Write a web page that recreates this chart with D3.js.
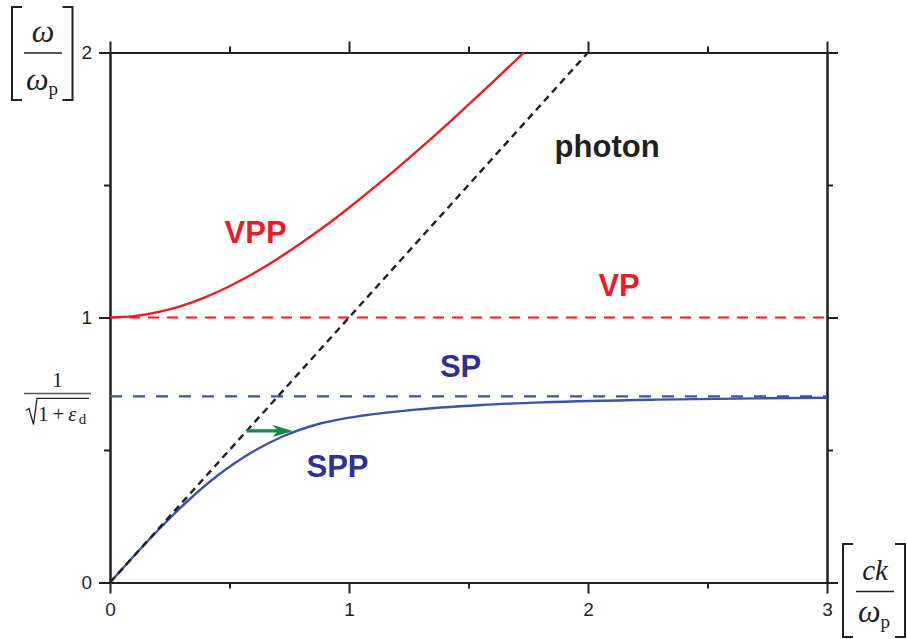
<!DOCTYPE html>
<html>
<head>
<meta charset="utf-8">
<script src="https://cdn.jsdelivr.net/npm/d3@7"></script>
<style>
  html, body { margin: 0; padding: 0; background: #fff; }
  svg { display: block; }
</style>
</head>
<body>
<svg id="chart" width="907" height="639"></svg>
<script>
// Wave number ck/ωp on the x axis, frequency ω/ωp on the y axis
const kMajorTicks = [0, 1, 2, 3];
const kMinorTicks = [0.5, 1.5, 2.5];
const wMajorTicks = [0, 1, 2];
const wMinorTicks = [0.5, 1.5];

// light line ω = ck
const photonK = [0, 2];
const photonW = [0, 2];

// volume plasmon polariton branch
const vppK = [0, 0.1, 0.2, 0.3, 0.4, 0.5, 0.6, 0.7, 0.8, 0.9, 1.0, 1.1, 1.2, 1.3, 1.4, 1.5, 1.6, 1.732];
const vppW = [1.000, 1.005, 1.020, 1.044, 1.077, 1.118, 1.166, 1.221, 1.281, 1.345, 1.414, 1.487, 1.562, 1.640, 1.720, 1.803, 1.887, 2.000];

// surface plasmon polariton branch
const sppK = [0, 0.100, 0.204, 0.316, 0.445, 0.521, 0.610, 0.720, 0.880, 1.060, 1.250, 1.556, 1.818, 2.284, 2.712, 3.0];
const sppW = [0, 0.10, 0.20, 0.30, 0.40, 0.45, 0.50, 0.55, 0.60, 0.63, 0.65, 0.67, 0.68, 0.69, 0.695, 0.697];

// flat asymptotes: volume plasmon and surface plasmon
const vpW = 1;
const spW = 0.702;

// momentum-mismatch arrow from the light line to the SPP curve
const arrowK = [0.572, 0.765];
const arrowW = 0.572;

// curve labels: text, position (k, ω at baseline) and colour group
const labelText = ["VPP", "photon", "VP", "SP", "SPP"];
const labelK = [0.609, 2.08, 2.13, 1.467, 0.952];
const labelW = [1.281, 1.606, 1.081, 0.775, 0.398];
const labelKind = ["red", "black", "red", "blue", "blue"];

const C = {
  axis: "#231f20",
  red: "#ed1c24",
  blueLine: "#3a55a5",
  blueText: "#2e3192",
  black: "#231f20",
  green: "#0d8a45"
};

const svg = d3.select("#chart");
svg.append("rect").attr("width", 907).attr("height", 639).attr("fill", "#fff");

const x = d3.scaleLinear().domain([0, 3]).range([110, 827]);
const y = d3.scaleLinear().domain([0, 2]).range([582.5, 52.5]);

const sans = "'Liberation Sans', Arial, Helvetica, sans-serif";
const serif = "'Liberation Serif', 'Times New Roman', 'DejaVu Serif', serif";

// ---- frame with outward ticks on all four sides
function styleAxis(g, showText) {
  g.select(".domain").attr("stroke", C.axis).attr("stroke-width", 2);
  g.selectAll(".tick line").attr("stroke", C.axis).attr("stroke-width", 2);
  g.selectAll(".tick text")
    .attr("fill", C.axis)
    .style("font-family", sans)
    .style("font-size", "19px");
  if (!showText) g.selectAll(".tick text").remove();
}

const axes = svg.append("g");
function addAxis(gen, tr, showText) {
  const g = axes.append("g").attr("transform", tr).call(gen);
  styleAxis(g, showText);
  return g;
}
const X0 = x(0), X1 = x(3), Y0 = y(0), Y1 = y(2);

addAxis(d3.axisBottom(x).tickValues(kMajorTicks).tickSize(11).tickSizeOuter(0).tickPadding(9).tickFormat(d3.format("d")), `translate(0,${Y0})`, true);
addAxis(d3.axisBottom(x).tickValues(kMinorTicks).tickSize(6).tickSizeOuter(0), `translate(0,${Y0})`, false);
addAxis(d3.axisTop(x).tickValues(kMajorTicks).tickSize(11).tickSizeOuter(0), `translate(0,${Y1})`, false);
addAxis(d3.axisTop(x).tickValues(kMinorTicks).tickSize(6).tickSizeOuter(0), `translate(0,${Y1})`, false);
addAxis(d3.axisLeft(y).tickValues(wMajorTicks).tickSize(11).tickSizeOuter(0).tickPadding(7).tickFormat(d3.format("d")), `translate(${X0},0)`, true);
addAxis(d3.axisLeft(y).tickValues(wMinorTicks).tickSize(6).tickSizeOuter(0), `translate(${X0},0)`, false);
addAxis(d3.axisRight(y).tickValues(wMajorTicks).tickSize(11).tickSizeOuter(0), `translate(${X1},0)`, false);
addAxis(d3.axisRight(y).tickValues(wMinorTicks).tickSize(6).tickSizeOuter(0), `translate(${X1},0)`, false);

// ---- curves
const plot = svg.append("g");
const line = d3.line().x(d => x(d[0])).y(d => y(d[1])).curve(d3.curveMonotoneX);
const straight = d3.line().x(d => x(d[0])).y(d => y(d[1]));

// VP and SP asymptotes
plot.append("path")
  .attr("d", straight([[0, vpW], [3, vpW]]))
  .attr("fill", "none").attr("stroke", C.red).attr("stroke-width", 2.2)
  .attr("stroke-dasharray", "11,8");
plot.append("path")
  .attr("d", straight([[0, spW], [3, spW]]))
  .attr("fill", "none").attr("stroke", C.blueLine).attr("stroke-width", 2.2)
  .attr("stroke-dasharray", "12,11");

// VPP and SPP branches
plot.append("path")
  .attr("d", line(d3.zip(vppK, vppW)))
  .attr("fill", "none").attr("stroke", C.red).attr("stroke-width", 2.4);
plot.append("path")
  .attr("d", line(d3.zip(sppK, sppW)))
  .attr("fill", "none").attr("stroke", C.blueLine).attr("stroke-width", 2.4);

// light line
plot.append("path")
  .attr("d", straight(d3.zip(photonK, photonW)))
  .attr("fill", "none").attr("stroke", C.black).attr("stroke-width", 2.4)
  .attr("stroke-dasharray", "7,5");

// arrow
const ax0 = x(arrowK[0]), ax1 = x(arrowK[1]), ay = y(arrowW);
plot.append("line")
  .attr("x1", ax0).attr("y1", ay).attr("x2", ax1 - 12).attr("y2", ay)
  .attr("stroke", C.green).attr("stroke-width", 3.2);
plot.append("path")
  .attr("d", `M${ax1},${ay} L${ax1 - 20},${ay - 6} L${ax1 - 15},${ay} L${ax1 - 20},${ay + 6} Z`)
  .attr("fill", C.green);

// ---- curve labels
const labelColor = { red: C.red, black: C.black, blue: C.blueText };
labelText.forEach((t, i) => {
  svg.append("text")
    .attr("x", x(labelK[i])).attr("y", y(labelW[i]))
    .attr("text-anchor", "middle")
    .attr("fill", labelColor[labelKind[i]])
    .style("font-family", sans)
    .style("font-weight", "bold")
    .style("font-size", "31px")
    .text(t);
});

// ---- bracketed axis titles
const bracketColor = C.axis;
function bracket(xs, top, bottom, dir) {
  svg.append("path")
    .attr("d", `M${xs + dir * 10},${top} H${xs} V${bottom} H${xs + dir * 10}`)
    .attr("fill", "none").attr("stroke", bracketColor).attr("stroke-width", 2);
}

// ω / ωp on the frequency axis
bracket(12, 7, 100, 1);
bracket(72.5, 7, 100, -1);
svg.append("line").attr("x1", 24).attr("x2", 62).attr("y1", 53).attr("y2", 53)
  .attr("stroke", bracketColor).attr("stroke-width", 1.6);
svg.append("text").attr("x", 43).attr("y", 42).attr("text-anchor", "middle")
  .attr("fill", C.axis).style("font-family", serif).style("font-style", "italic")
  .style("font-size", "32px").text("ω");
const yDen = svg.append("text").attr("x", 26).attr("y", 90)
  .attr("fill", C.axis).style("font-family", serif).style("font-size", "32px");
yDen.append("tspan").style("font-style", "italic").text("ω");
yDen.append("tspan").attr("dy", 5).style("font-size", "19px").text("p");

// ck / ωp on the wave-number axis
bracket(843, 544, 637, 1);
bracket(905, 544, 637, -1);
svg.append("line").attr("x1", 856).attr("x2", 894).attr("y1", 591.5).attr("y2", 591.5)
  .attr("stroke", bracketColor).attr("stroke-width", 1.6);
svg.append("text").attr("x", 875).attr("y", 580).attr("text-anchor", "middle")
  .attr("fill", C.axis).style("font-family", serif).style("font-style", "italic")
  .style("font-size", "29px").text("ck");
const xDen = svg.append("text").attr("x", 858).attr("y", 622)
  .attr("fill", C.axis).style("font-family", serif).style("font-size", "32px");
xDen.append("tspan").style("font-style", "italic").text("ω");
xDen.append("tspan").attr("dy", 6).style("font-size", "19px").text("p");

// 1/√(1+εd) marking the surface plasmon level
const spY = y(spW);
svg.append("text").attr("x", 57.5).attr("y", spY - 9).attr("text-anchor", "middle")
  .attr("fill", C.axis).style("font-family", serif).style("font-size", "21px").text("1");
svg.append("line").attr("x1", 24).attr("x2", 91).attr("y1", spY - 3).attr("y2", spY - 3)
  .attr("stroke", "#555").attr("stroke-width", 1.4);
svg.append("path")
  .attr("d", `M26,${spY + 14} L29,${spY + 12} L33.5,${spY + 28} L37,${spY + 2} H89`)
  .attr("fill", "none").attr("stroke", C.axis).attr("stroke-width", 1.3);
const root = svg.append("text").attr("x", 38).attr("y", spY + 25)
  .attr("fill", C.axis).style("font-family", serif).style("font-size", "21px");
root.append("tspan").text("1");
root.append("tspan").attr("dx", 4).text("+");
root.append("tspan").attr("dx", 4).style("font-style", "italic").text("ε");
root.append("tspan").attr("dy", 3).attr("dx", 2).style("font-size", "15px").text("d");
</script>
</body>
</html>
